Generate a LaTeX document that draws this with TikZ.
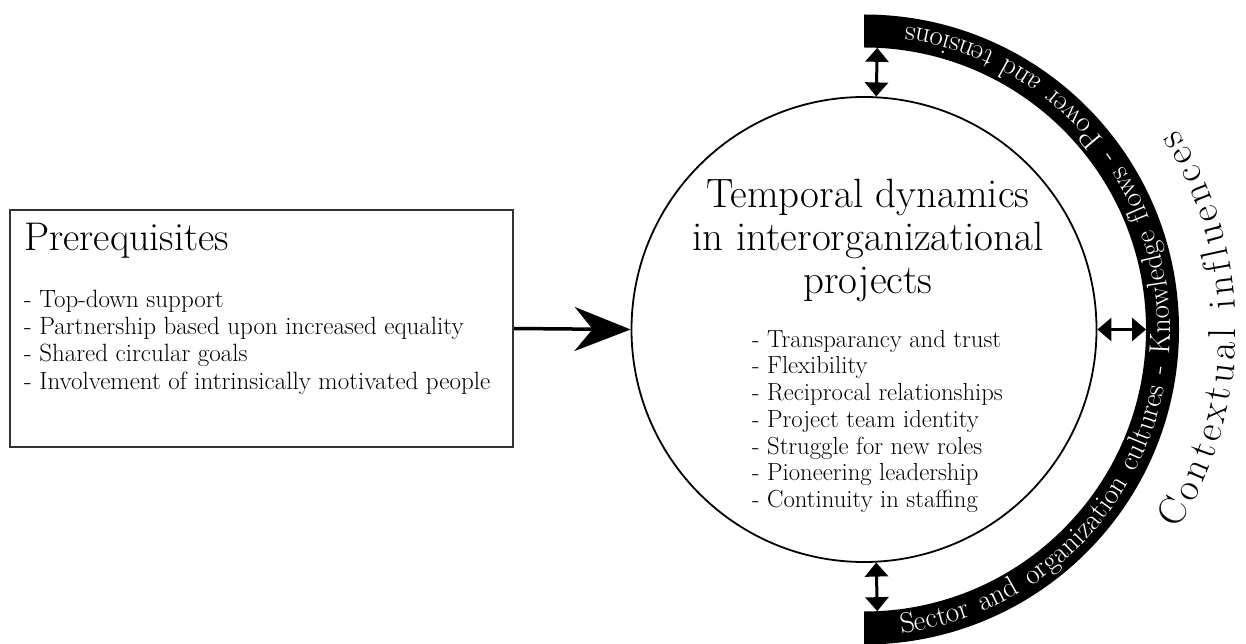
\documentclass[tikz,border=0pt]{standalone}
\usetikzlibrary{positioning,calc,arrows.meta,decorations.text}
\newcommand{\bigfont}{\fontsize{41}{43}\selectfont}
\newcommand{\boxtitlefont}{\fontsize{40}{43}\selectfont}
\newcommand{\boxlistfont}{\fontsize{25}{27.3}\selectfont}
\newcommand{\dynlistfont}{\fontsize{24.7}{26.7}\selectfont}
\newcommand{\bandfont}{\fontsize{29}{29}\selectfont}
\newcommand{\ctxfont}{\fontsize{39}{39}\selectfont}

\begin{document}
\begin{tikzpicture}[x=1pt,y=1pt,
  prereq_box/.style={draw=black!80,line width=2pt,minimum width=503pt,minimum height=237pt,inner sep=0pt},
  dyn_circle/.style={draw,circle,line width=1.8pt,minimum size=465pt,inner sep=0pt},
  plain_text/.style={inner sep=0pt,align=left},
  dbl_arrow/.style={line width=3pt,{Triangle[width=23pt,length=14pt]}-{Triangle[width=23pt,length=14pt]}},
  main_arrow/.style={line width=3.5pt,-{Stealth[length=56pt,width=44pt,inset=18pt]}}
  ]
  \useasboundingbox (0,0) rectangle (1246,643);

  \node[prereq_box] (prereq) at (261.5,314.5) {};
  \node[anchor=base west,inner sep=0pt,font=\boxtitlefont] (prereq_title)
    at ($(prereq.north west)+(15,-42)$) {Prerequisites};
  \node[plain_text,anchor=north west,font=\boxlistfont] (prereq_list)
    at ($(prereq.north west)+(15,-80.6)$)
    {- Top-down support\\- Partnership based upon increased equality\\- Shared circular goals\\- Involvement of intrinsically motivated people};

  \node[dyn_circle] (dyn) at (864,313.5) {};
  \node[align=center,inner sep=0pt,anchor=north,font=\bigfont] (dyn_title)
    at ($(dyn.center)+(4,151)$) {Temporal dynamics\\in interorganizational\\projects};
  \node[plain_text,anchor=north west,font=\dynlistfont] (dyn_list)
    at ($(dyn.center)+(-112,-0.4)$)
    {- Transparancy and trust\\- Flexibility\\- Reciprocal relationships\\- Project team identity\\- Struggle for new roles\\- Pioneering leadership\\- Continuity in staffing};

  \fill ($(dyn.center)+(-90:315)$) arc[start angle=-90,end angle=90,radius=315]
    -- ($(dyn.center)+(90:282)$) arc[start angle=90,end angle=-90,radius=282] -- cycle;
  \path[decorate,decoration={text along path,text color=white,
      text align={fit to path stretching spaces},
      text={|\bandfont|Sector and organization cultures - Knowledge flows - Power and tensions}}]
    ($(dyn.center)+(-83:306)$) arc[start angle=-83,end angle=82,radius=306];
  \path[decorate,decoration={text along path,text align={fit to path},
      text={|\ctxfont|Contextual influences}}]
    ($(dyn.center)+(-32.5:372)$) arc[start angle=-32.5,end angle=32.5,radius=372];

  \coordinate (band_top) at ($(dyn.center)+(87.3:282)$);
  \coordinate (band_bot) at ($(dyn.center)+(-87.3:282)$);
  \coordinate (band_right) at ($(dyn.center)+(0:282)$);

  \draw[main_arrow] (prereq.east) -- (dyn.west);
  \draw[dbl_arrow] (dyn.87) -- (band_top);
  \draw[dbl_arrow] (dyn.-87) -- (band_bot);
  \draw[dbl_arrow] (dyn.east) -- (band_right);
\end{tikzpicture}
\end{document}
